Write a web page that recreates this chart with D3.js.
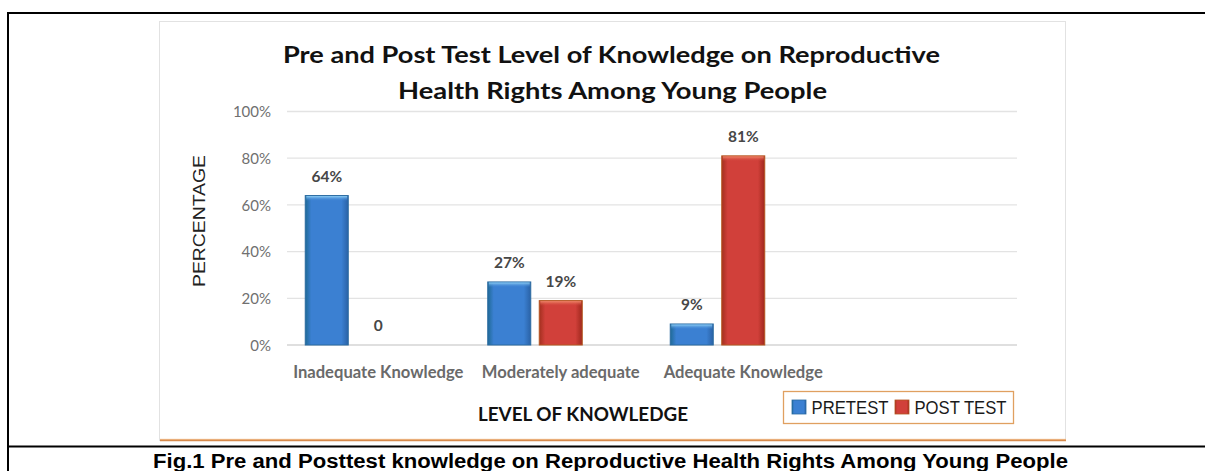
<!DOCTYPE html>
<html>
<head>
<meta charset="utf-8">
<script src="https://cdn.jsdelivr.net/npm/d3@7"></script>
<style>
  html, body { margin: 0; padding: 0; background: #fff; }
  svg { display: block; }
</style>
</head>
<body>
<svg id="fig" width="1205" height="471"></svg>
<script>
// Knowledge levels (the fourth slot on the axis is left empty)
const categories = ["Inadequate Knowledge", "Moderately adequate", "Adequate Knowledge", ""];
// Series slots inside each group; the third slot holds no data
const seriesSlots = ["PRETEST", "POST TEST", "slot3"];
const pretest = [64, 27, 9];
const posttest = [0, 19, 81];
const postLabels = ["0", "19%", "81%"];
const pretestLabels = ["64%", "27%", "9%"];
const yTicks = [0, 20, 40, 60, 80, 100];

const svg = d3.select("#fig");
const W = 1205, H = 471;

// ---------- outer figure frame ----------
const frame = svg.append("g");
frame.append("line").attr("x1", 8).attr("x2", W).attr("y1", 13).attr("y2", 13)
  .attr("stroke", "#000").attr("stroke-width", 2.2);
frame.append("line").attr("x1", 8).attr("x2", 8).attr("y1", 12).attr("y2", H)
  .attr("stroke", "#000").attr("stroke-width", 2);
frame.append("line").attr("x1", 8).attr("x2", W).attr("y1", 446.5).attr("y2", 446.5)
  .attr("stroke", "#000").attr("stroke-width", 2.2);

// ---------- chart area ----------
const defs = svg.append("defs");
const glow = defs.append("linearGradient").attr("id", "edgeShade").attr("x1", 0).attr("x2", 0).attr("y1", 0).attr("y2", 1);
glow.append("stop").attr("offset", "0%").attr("stop-color", "#f6c79a");
glow.append("stop").attr("offset", "100%").attr("stop-color", "#c9712c");

svg.append("rect").attr("x", 159.5).attr("y", 21.5).attr("width", 906).attr("height", 419)
  .attr("fill", "#fff").attr("stroke", "#e2e2e2").attr("stroke-width", 1);
svg.append("rect").attr("x", 160).attr("y", 438.8).attr("width", 906).attr("height", 2.4)
  .attr("fill", "url(#edgeShade)");

// gradients for bevelled bars
function barGradient(id, edgeL, mid, edgeR) {
  const g = defs.append("linearGradient").attr("id", id).attr("x1", 0).attr("x2", 1).attr("y1", 0).attr("y2", 0);
  g.append("stop").attr("offset", "0%").attr("stop-color", edgeL);
  g.append("stop").attr("offset", "14%").attr("stop-color", mid);
  g.append("stop").attr("offset", "84%").attr("stop-color", mid);
  g.append("stop").attr("offset", "100%").attr("stop-color", edgeR);
}
barGradient("gPre", "#1f6a96", "#3b80d2", "#2a62a6");
barGradient("gPost", "#a3301f", "#d1403a", "#9f281d");
function topGradient(id, c1, c2) {
  const g = defs.append("linearGradient").attr("id", id).attr("x1", 0).attr("x2", 0).attr("y1", 0).attr("y2", 1);
  g.append("stop").attr("offset", "0%").attr("stop-color", c1);
  g.append("stop").attr("offset", "100%").attr("stop-color", c2).attr("stop-opacity", 0);
}
topGradient("tPre", "#8fd0f5", "#3b80d2");
topGradient("tPost", "#f08a6a", "#d1403a");

// ---------- scales ----------
const x0 = d3.scaleBand().domain(categories).range([287, 1017]).paddingInner(0.2).paddingOuter(0.1);
const x1 = d3.scaleBand().domain(seriesSlots).range([0, x0.bandwidth()]).paddingInner(0.165).paddingOuter(0);
const y = d3.scaleLinear().domain([0, 100]).range([345, 111.5]);

const font = "Lato, 'Open Sans', sans-serif";

// gridlines
svg.append("g").selectAll("line").data(yTicks).join("line")
  .attr("x1", 287).attr("x2", 1017)
  .attr("y1", d => y(d)).attr("y2", d => y(d))
  .attr("stroke", d => d === 0 ? "#d4d4d4" : "#e3e3e3").attr("stroke-width", 1.3);

// y axis tick labels via d3 axis
const yAxis = svg.append("g").attr("transform", "translate(279,0)")
  .call(d3.axisLeft(y).tickValues(yTicks).tickSize(0).tickPadding(8).tickFormat(d => d + "%"));
yAxis.select(".domain").remove();
yAxis.selectAll("text").attr("font-family", font).attr("font-size", 15)
  .attr("fill", "#707070").attr("dy", "0.35em");

// x axis category labels
const xAxis = svg.append("g").attr("transform", "translate(0,345)")
  .call(d3.axisBottom(x0).tickSize(0).tickPadding(21));
xAxis.select(".domain").remove();
xAxis.selectAll("text").attr("font-family", font).attr("font-size", 16.6).attr("font-weight", 700)
  .attr("fill", "#6a6a6a").attr("dy", "0.71em");

// bars
const rows = categories.slice(0, 3).map((c, i) => ({
  cat: c,
  vals: [
    { key: "PRETEST", v: pretest[i], label: pretestLabels[i] },
    { key: "POST TEST", v: posttest[i], label: postLabels[i] }
  ]
}));
const groups = svg.append("g").selectAll("g").data(rows).join("g")
  .attr("transform", d => `translate(${x0(d.cat)},0)`);
const bars = groups.selectAll("g.bar").data(d => d.vals).join("g").attr("class", "bar");
bars.filter(d => d.v > 0).append("rect")
  .attr("x", d => x1(d.key)).attr("width", x1.bandwidth())
  .attr("y", d => y(d.v)).attr("height", d => y(0) - y(d.v))
  .attr("fill", d => d.key === "PRETEST" ? "url(#gPre)" : "url(#gPost)")
  .attr("stroke", d => d.key === "PRETEST" ? "#2a6aa0" : "#b4561f").attr("stroke-width", 1);
bars.filter(d => d.v > 0).append("rect")
  .attr("x", d => x1(d.key) + 1).attr("width", x1.bandwidth() - 2)
  .attr("y", d => y(d.v) + 0.5).attr("height", 5)
  .attr("fill", d => d.key === "PRETEST" ? "url(#tPre)" : "url(#tPost)");
bars.append("text")
  .attr("x", d => x1(d.key) + x1.bandwidth() / 2)
  .attr("y", d => y(d.v) - 14)
  .attr("text-anchor", "middle")
  .attr("font-family", font).attr("font-size", 15.5).attr("font-weight", 700)
  .attr("fill", "#474747")
  .text(d => d.label);

// title
const title = svg.append("g").attr("font-family", font).attr("font-weight", 700)
  .attr("font-size", 22).attr("fill", "#111").attr("text-anchor", "middle");
title.append("text").attr("x", 611.5).attr("y", 63)
  .attr("textLength", 657).attr("lengthAdjust", "spacingAndGlyphs")
  .text("Pre and Post Test Level of Knowledge on Reproductive");
title.append("text").attr("x", 612.5).attr("y", 98.5)
  .attr("textLength", 429).attr("lengthAdjust", "spacingAndGlyphs")
  .text("Health Rights Among Young People");

// axis titles
svg.append("text").attr("transform", "translate(205,221) rotate(-90)")
  .attr("text-anchor", "middle").attr("font-family", "'Liberation Sans', Arial, sans-serif")
  .attr("font-size", 16.5).attr("fill", "#222")
  .attr("textLength", 132).attr("lengthAdjust", "spacingAndGlyphs")
  .text("PERCENTAGE");
svg.append("text").attr("x", 583).attr("y", 421)
  .attr("text-anchor", "middle").attr("font-family", font).attr("font-weight", 700)
  .attr("font-size", 19.5).attr("fill", "#111")
  .attr("textLength", 210).attr("lengthAdjust", "spacingAndGlyphs")
  .text("LEVEL OF KNOWLEDGE");

// legend
const legend = svg.append("g");
legend.append("rect").attr("x", 783.5).attr("y", 391.5).attr("width", 230).attr("height", 32)
  .attr("fill", "#fff").attr("stroke", "#e0a060").attr("stroke-width", 1.3);
const legendItems = [
  { key: "PRETEST", fill: "url(#gPre)", stroke: "#2a6aa0", sx: 792, tx: 811.5, tw: 77 },
  { key: "POST TEST", fill: "url(#gPost)", stroke: "#b4561f", sx: 895, tx: 914.5, tw: 92 }
];
const li = legend.selectAll("g").data(legendItems).join("g");
li.append("rect").attr("x", d => d.sx).attr("y", 400).attr("width", 14).attr("height", 14)
  .attr("fill", d => d.fill).attr("stroke", d => d.stroke).attr("stroke-width", 0.8);
li.append("text").attr("x", d => d.tx).attr("y", 413.5)
  .attr("font-family", "'Liberation Sans', Arial, sans-serif").attr("font-size", 18.5).attr("fill", "#1a1a1a")
  .attr("textLength", d => d.tw).attr("lengthAdjust", "spacingAndGlyphs")
  .text(d => d.key);

// figure caption
svg.append("text").attr("x", 610.5).attr("y", 468)
  .attr("text-anchor", "middle").attr("font-family", "'Liberation Sans', Arial, sans-serif")
  .attr("font-weight", 700).attr("font-size", 20).attr("fill", "#000")
  .attr("textLength", 915).attr("lengthAdjust", "spacingAndGlyphs")
  .text("Fig.1 Pre and Posttest knowledge on Reproductive Health Rights Among Young People");
</script>
</body>
</html>
